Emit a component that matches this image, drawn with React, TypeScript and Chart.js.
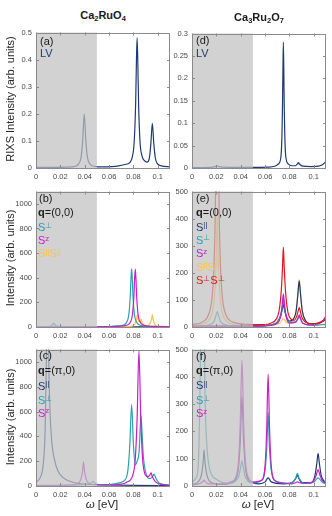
import React, { useEffect, useRef } from 'react';
import { Chart, registerables } from 'chart.js';
Chart.register(...registerables);

type P = [number, number];

// ---------- axes ----------
const X_TICKS = [0, 0.02, 0.04, 0.06, 0.08, 0.1];
const X_MAX = 0.11;
const GRAY_END = 0.05;
const Y_TICKS_A = [0, 0.1, 0.2, 0.3, 0.4, 0.5];
const Y_TICKS_D = [0, 0.05, 0.1, 0.15, 0.2, 0.25, 0.3];
const Y_TICKS_BC = [0, 200, 400, 600, 800, 1000];
const Y_TICKS_EF = [0, 100, 200, 300, 400, 500];

// ---------- colours ----------
const NAVY = '#1f3a72';
const TEAL = '#2aa0b2';
const MAGENTA = '#c81ec8';
const YELLOW = '#ffc24a';
const RED = '#e4161c';

// ---------- (a) Ca2RuO4 LV ----------
const A_LV: P[] = [[0,0.002],[0.015,0.002],[0.025,0.003],[0.031,0.005],[0.035,0.015],[0.037,0.04],[0.0383,0.1],[0.0396,0.2],[0.0409,0.1],[0.0422,0.04],[0.0442,0.015],[0.048,0.006],[0.055,0.004],[0.062,0.005],[0.068,0.008],[0.073,0.013],[0.077,0.02],[0.079,0.04],[0.0806,0.096],[0.0818,0.24],[0.0824,0.384],[0.083,0.48],[0.0836,0.384],[0.0842,0.24],[0.0854,0.096],[0.087,0.045],[0.089,0.027],[0.091,0.022],[0.093,0.035],[0.0943,0.09],[0.0955,0.165],[0.0967,0.09],[0.098,0.036],[0.0995,0.017],[0.103,0.008],[0.11,0.004]];

// ---------- (d) Ca3Ru2O7 LV ----------
const D_LV: P[] = [[0,0.001],[0.015,0.0015],[0.019,0.003],[0.0205,0.005],[0.022,0.003],[0.03,0.0015],[0.05,0.0015],[0.062,0.002],[0.068,0.004],[0.071,0.009],[0.073,0.025],[0.0738,0.07],[0.0743,0.14],[0.0746,0.21],[0.075,0.28],[0.0754,0.21],[0.0757,0.14],[0.0762,0.07],[0.077,0.025],[0.079,0.009],[0.082,0.005],[0.085,0.005],[0.0866,0.009],[0.0874,0.012],[0.0882,0.009],[0.091,0.004],[0.098,0.003],[0.104,0.004],[0.107,0.007],[0.109,0.012],[0.11,0.016]];

// ---------- (b) Ca2RuO4 q=(0,0) ----------
const B_PAR: P[] = [[0,1],[0.05,1],[0.11,1]];
const B_PERP: P[] = [[0,1],[0.01,3],[0.0125,10],[0.0138,22],[0.0145,32],[0.0152,22],[0.0165,10],[0.02,3],[0.04,2],[0.06,4],[0.068,9],[0.0725,18],[0.0745,40],[0.0761,95],[0.0773,238],[0.0779,380],[0.0785,475],[0.0791,380],[0.0797,238],[0.0809,95],[0.0825,40],[0.0845,18],[0.089,8],[0.1,3],[0.11,2]];
const B_Z: P[] = [[0,0],[0.05,1],[0.06,3],[0.07,8],[0.0755,18],[0.0775,40],[0.0791,95],[0.0803,238],[0.0809,380],[0.0815,470],[0.0821,380],[0.0827,238],[0.0839,95],[0.0855,40],[0.0875,18],[0.092,8],[0.1,4],[0.11,2]];
const B_PP: P[] = [[0,0],[0.06,1],[0.075,3],[0.079,8],[0.081,22],[0.0824,55],[0.0832,100],[0.084,58],[0.0848,42],[0.0855,48],[0.0862,65],[0.087,42],[0.0885,18],[0.091,10],[0.093,20],[0.0947,55],[0.0955,100],[0.0963,55],[0.0975,20],[0.1,7],[0.11,3]];

// ---------- (c) Ca2RuO4 q=(pi,0) ----------
const C_PAR: P[] = [[0,30],[0.004,80],[0.006,180],[0.0075,450],[0.0085,1000],[0.0095,2000],[0.0105,1000],[0.0115,600],[0.013,350],[0.015,220],[0.018,120],[0.022,70],[0.027,40],[0.035,20],[0.045,12],[0.06,8],[0.08,5],[0.11,3]];
const C_PERP: P[] = [[0,5],[0.03,8],[0.042,15],[0.0455,25],[0.0468,38],[0.048,25],[0.052,12],[0.06,12],[0.068,25],[0.0735,54],[0.0755,131],[0.077,328],[0.0785,655],[0.08,328],[0.0815,170],[0.083,200],[0.0847,285],[0.0855,460],[0.0862,570],[0.0869,460],[0.0882,230],[0.09,110],[0.093,60],[0.0955,72],[0.097,95],[0.0985,60],[0.101,25],[0.105,12],[0.11,8]];
const C_Z: P[] = [[0,3],[0.03,8],[0.035,25],[0.037,60],[0.0382,120],[0.039,195],[0.0398,120],[0.041,60],[0.043,25],[0.048,10],[0.06,8],[0.07,15],[0.0745,30],[0.0795,90],[0.0815,218],[0.083,545],[0.0845,1090],[0.086,545],[0.0875,218],[0.0895,95],[0.092,75],[0.0935,90],[0.0945,105],[0.0955,75],[0.098,35],[0.102,15],[0.11,6]];

// ---------- (e) Ca3Ru2O7 q=(0,0) ----------
const E_PAR: P[] = [[0,3],[0.05,4],[0.065,8],[0.07,18],[0.073,45],[0.0743,70],[0.075,90],[0.0757,70],[0.077,45],[0.08,22],[0.083,28],[0.0855,60],[0.0868,115],[0.088,170],[0.0892,115],[0.0905,60],[0.093,25],[0.098,12],[0.104,14],[0.108,22],[0.11,32]];
const E_PERP: P[] = [[0,2],[0.01,5],[0.015,10],[0.018,20],[0.0195,40],[0.0207,57],[0.0219,40],[0.0234,20],[0.026,10],[0.035,4],[0.05,3],[0.065,8],[0.07,18],[0.073,45],[0.0743,80],[0.075,105],[0.0757,80],[0.077,45],[0.08,18],[0.085,18],[0.0872,32],[0.088,40],[0.0888,32],[0.091,14],[0.1,6],[0.11,10]];
const E_Z: P[] = [[0,2],[0.05,3],[0.065,6],[0.07,14],[0.0725,35],[0.074,80],[0.075,122],[0.076,80],[0.0775,35],[0.08,14],[0.085,18],[0.0872,35],[0.088,45],[0.0888,35],[0.091,14],[0.097,8],[0.104,12],[0.108,25],[0.11,42]];
const E_PP: P[] = [[0,4],[0.008,10],[0.0137,25],[0.0167,55],[0.0187,130],[0.0199,260],[0.0207,420],[0.0215,260],[0.0227,130],[0.0247,55],[0.0277,25],[0.034,10],[0.045,5],[0.065,6],[0.072,15],[0.075,30],[0.078,15],[0.083,25],[0.0858,70],[0.0872,140],[0.088,175],[0.0888,140],[0.0902,70],[0.093,25],[0.1,8],[0.11,10]];
const E_PPERP: P[] = [[0,9],[0.007,15],[0.0117,30],[0.0147,60],[0.0167,120],[0.0182,250],[0.0193,500],[0.0207,1500],[0.0221,500],[0.0232,250],[0.0247,120],[0.0267,60],[0.0297,30],[0.035,16],[0.045,10],[0.06,9],[0.065,15],[0.069,28],[0.0715,60],[0.0733,135],[0.0743,220],[0.075,295],[0.0757,220],[0.0767,135],[0.0785,60],[0.081,30],[0.084,25],[0.086,40],[0.0873,62],[0.088,72],[0.0887,62],[0.09,38],[0.093,18],[0.098,12],[0.103,14],[0.107,22],[0.11,38]];

// ---------- (f) Ca3Ru2O7 q=(pi,0) ----------
const F_PAR: P[] = [[0,5],[0.005,15],[0.008,45],[0.0092,90],[0.0099,132],[0.0106,90],[0.012,45],[0.015,15],[0.025,6],[0.035,20],[0.038,60],[0.0397,170],[0.041,330],[0.0423,170],[0.044,60],[0.047,20],[0.055,8],[0.06,15],[0.0625,30],[0.065,15],[0.075,8],[0.083,15],[0.0855,30],[0.0865,40],[0.0875,30],[0.09,12],[0.098,12],[0.101,40],[0.1025,85],[0.1035,120],[0.1045,85],[0.106,40],[0.109,15],[0.11,12]];
const F_PERP: P[] = [[0,12],[0.003,28],[0.005,65],[0.0065,330],[0.0075,700],[0.0086,1400],[0.0097,700],[0.0107,330],[0.0122,150],[0.0146,60],[0.02,25],[0.03,10],[0.038,30],[0.0398,65],[0.041,92],[0.0422,65],[0.044,30],[0.05,12],[0.057,20],[0.06,60],[0.0615,150],[0.0625,270],[0.0635,150],[0.065,60],[0.068,20],[0.08,10],[0.085,28],[0.0865,46],[0.088,28],[0.092,10],[0.1,14],[0.1035,30],[0.107,14],[0.11,8]];
const F_Z: P[] = [[0,3],[0.007,10],[0.0092,18],[0.0099,22],[0.0106,18],[0.013,8],[0.025,8],[0.032,15],[0.036,33],[0.0382,92],[0.0396,230],[0.0402,346],[0.041,460],[0.0418,346],[0.0424,230],[0.0438,92],[0.046,33],[0.05,15],[0.0575,22],[0.0601,82],[0.0613,205],[0.0625,410],[0.0637,205],[0.0649,82],[0.0675,22],[0.072,12],[0.082,8],[0.085,12],[0.0865,15],[0.088,12],[0.095,10],[0.1,20],[0.102,40],[0.1035,60],[0.105,40],[0.107,20],[0.11,12]];

// ---------- layout ----------
const AX_W = 36;
const AX_H = 20;
const PAD_T = 6;
const PAD_R = 4;
const FONT = '"Liberation Sans", Arial, Helvetica, sans-serif';

interface Series { data: P[]; color: string }
interface Panel { key: string; left: number; top: number; w: number; h: number; yMax: number; yTicks: number[]; series: Series[] }

const COL_L = 36, COL_R = 192, PW = 134;
const PANELS: Panel[] = [
  { key: 'a', left: COL_L, top: 30, w: PW, h: 138, yMax: 0.5, yTicks: Y_TICKS_A, series: [{ data: A_LV, color: NAVY }] },
  { key: 'd', left: COL_R, top: 31, w: PW, h: 137, yMax: 0.3, yTicks: Y_TICKS_D, series: [{ data: D_LV, color: NAVY }] },
  { key: 'b', left: COL_L, top: 189, w: PW, h: 138, yMax: 1100, yTicks: Y_TICKS_BC, series: [
    { data: B_Z, color: MAGENTA }, { data: B_PERP, color: TEAL }, { data: B_PP, color: YELLOW }, { data: B_PAR, color: NAVY } ] },
  { key: 'e', left: COL_R, top: 189, w: PW, h: 138, yMax: 500, yTicks: Y_TICKS_EF, series: [
    { data: E_PPERP, color: RED }, { data: E_Z, color: MAGENTA }, { data: E_PERP, color: TEAL }, { data: E_PAR, color: NAVY }, { data: E_PP, color: YELLOW } ] },
  { key: 'c', left: COL_L, top: 347, w: PW, h: 139, yMax: 1100, yTicks: Y_TICKS_BC, series: [
    { data: C_Z, color: MAGENTA }, { data: C_PERP, color: TEAL }, { data: C_PAR, color: NAVY } ] },
  { key: 'f', left: COL_R, top: 347, w: PW, h: 139, yMax: 500, yTicks: Y_TICKS_EF, series: [
    { data: F_Z, color: MAGENTA }, { data: F_PERP, color: TEAL }, { data: F_PAR, color: NAVY } ] },
];

const fmt = (v: number) => String(parseFloat(Number(v).toFixed(4)));

const framePlugin = {
  id: 'frame',
  afterDatasetsDraw(chart: any) {
    const { ctx, chartArea: ca, scales } = chart;
    const xs = scales.x, ys = scales.y;
    ctx.save();
    const g1 = xs.getPixelForValue(0), g2 = xs.getPixelForValue(GRAY_END);
    ctx.fillStyle = 'rgba(192,192,192,0.72)';
    ctx.fillRect(g1, ca.top, g2 - g1, ca.bottom - ca.top);
    ctx.strokeStyle = '#8a8a8a';
    ctx.lineWidth = 1;
    ctx.strokeRect(Math.round(ca.left) + 0.5, Math.round(ca.top) + 0.5, Math.round(ca.width) - 1, Math.round(ca.height) - 1);
    const TL = 3;
    ctx.beginPath();
    for (const t of xs.ticks) {
      const px = Math.round(xs.getPixelForValue(t.value)) + 0.5;
      ctx.moveTo(px, ca.bottom); ctx.lineTo(px, ca.bottom - TL);
      ctx.moveTo(px, ca.top); ctx.lineTo(px, ca.top + TL);
    }
    for (const t of ys.ticks) {
      const py = Math.round(ys.getPixelForValue(t.value)) + 0.5;
      ctx.moveTo(ca.left, py); ctx.lineTo(ca.left + TL, py);
      ctx.moveTo(ca.right, py); ctx.lineTo(ca.right - TL, py);
    }
    ctx.stroke();
    ctx.restore();
  },
};

function PanelChart({ p }: { p: Panel }) {
  const ref = useRef<HTMLCanvasElement>(null);
  const cw = p.w + AX_W + PAD_R;
  const ch = p.h + PAD_T + AX_H;
  useEffect(() => {
    const tickFont = { family: FONT, size: 7.5 };
    const noGrid = { display: false, drawTicks: false, tickLength: 0 };
    const chart = new Chart(ref.current!, {
      type: 'line',
      data: {
        datasets: p.series.map((s) => ({
          data: s.data.map(([x, y]) => ({ x, y })),
          borderColor: s.color,
          borderWidth: 1.2,
          pointRadius: 0,
          fill: false,
          cubicInterpolationMode: 'monotone' as const,
          clip: 0,
        })),
      },
      options: {
        animation: false,
        responsive: false,
        devicePixelRatio: 1,
        events: [],
        layout: { padding: { top: PAD_T, right: PAD_R, left: 0, bottom: 0 } },
        plugins: { legend: { display: false }, tooltip: { enabled: false } },
        scales: {
          x: {
            type: 'linear', min: 0, max: X_MAX,
            afterBuildTicks: (s: any) => { s.ticks = X_TICKS.map((v) => ({ value: v })); },
            afterFit: (s: any) => { s.height = AX_H; },
            grid: noGrid, border: { display: false },
            ticks: { font: tickFont, color: '#4a4a4a', padding: 4, maxRotation: 0, autoSkip: false, callback: (v: any) => fmt(v) },
          },
          y: {
            type: 'linear', min: 0, max: p.yMax,
            afterBuildTicks: (s: any) => { s.ticks = p.yTicks.map((v) => ({ value: v })); },
            afterFit: (s: any) => { s.width = AX_W; },
            grid: noGrid, border: { display: false },
            ticks: { font: tickFont, color: '#4a4a4a', padding: 4, autoSkip: false, callback: (v: any) => fmt(v) },
          },
        },
      },
      plugins: [framePlugin],
    } as any);
    return () => chart.destroy();
  }, []);
  return (
    <canvas ref={ref} width={cw} height={ch}
      style={{ position: 'absolute', left: p.left - AX_W, top: p.top - PAD_T, width: cw, height: ch }} />
  );
}

const Sub = ({ children }: { children: React.ReactNode }) => (
  <span style={{ fontSize: '0.68em', position: 'relative', top: '0.3em' }}>{children}</span>
);
const Sup = ({ children }: { children: React.ReactNode }) => (
  <span style={{ fontSize: '0.72em', position: 'relative', top: '-0.42em' }}>{children}</span>
);

function Lbl({ x, y, color = '#1a1a1a', children }: { x: number; y: number; color?: string; children: React.ReactNode }) {
  return (
    <div style={{ position: 'absolute', left: x, top: y, transform: 'translateY(-50%)', font: `11px ${FONT}`, lineHeight: 1, color, whiteSpace: 'nowrap' }}>
      {children}
    </div>
  );
}

function YTitle({ x, y, text }: { x: number; y: number; text: string }) {
  return (
    <div style={{ position: 'absolute', left: x, top: y, transform: 'translate(-50%,-50%) rotate(-90deg)', font: `11px ${FONT}`, color: '#262626', whiteSpace: 'nowrap', lineHeight: 1 }}>
      {text}
    </div>
  );
}

function XTitle({ x, y }: { x: number; y: number }) {
  return (
    <div style={{ position: 'absolute', left: x, top: y, transform: 'translate(-50%,-50%)', font: `11.5px ${FONT}`, color: '#262626', whiteSpace: 'nowrap', lineHeight: 1 }}>
      <i>ω</i> [eV]
    </div>
  );
}

const Q00 = () => (<><b>q</b>=(0,0)</>);
const QPI = () => (<><b>q</b>=(π,0)</>);

export default function App() {
  const lx = 38, rx = 196;
  return (
    <div style={{ position: 'fixed', left: 0, top: 0, width: 332, height: 516, background: '#fff', overflow: 'hidden' }}>
      {PANELS.map((p) => <PanelChart key={p.key} p={p} />)}

      <div style={{ position: 'absolute', left: 103, top: 14.5, transform: 'translate(-50%,-50%)', font: `bold 11px ${FONT}`, color: '#1a1a1a', whiteSpace: 'nowrap', lineHeight: 1 }}>
        Ca<Sub>2</Sub>RuO<Sub>4</Sub>
      </div>
      <div style={{ position: 'absolute', left: 259, top: 16.5, transform: 'translate(-50%,-50%)', font: `bold 11px ${FONT}`, color: '#1a1a1a', whiteSpace: 'nowrap', lineHeight: 1 }}>
        Ca<Sub>3</Sub>Ru<Sub>2</Sub>O<Sub>7</Sub>
      </div>

      <YTitle x={9.5} y={99} text="RIXS Intensity (arb. units)" />
      <YTitle x={9.5} y={258} text="Intensity (arb. units)" />
      <YTitle x={9.5} y={416.5} text="Intensity (arb. units)" />
      <XTitle x={102} y={505} />
      <XTitle x={258} y={505} />

      {/* (a) */}
      <Lbl x={lx + 2} y={41}>(a)</Lbl>
      <Lbl x={lx + 2} y={52.5} color={NAVY}>LV</Lbl>
      {/* (d) */}
      <Lbl x={rx} y={40}>(d)</Lbl>
      <Lbl x={rx} y={53} color={NAVY}>LV</Lbl>
      {/* (b) */}
      <Lbl x={lx + 1} y={198}>(b)</Lbl>
      <Lbl x={lx} y={212}><Q00 /></Lbl>
      <Lbl x={lx} y={227} color={TEAL}>S<Sup>⊥</Sup></Lbl>
      <Lbl x={lx} y={240} color={MAGENTA}>S<Sup>z</Sup></Lbl>
      <Lbl x={lx} y={253} color={YELLOW}>S<Sup>||</Sup>S<Sup>||</Sup></Lbl>
      {/* (e) */}
      <Lbl x={rx} y={198}>(e)</Lbl>
      <Lbl x={rx} y={211.7}><Q00 /></Lbl>
      <Lbl x={rx} y={226.5} color={NAVY}>S<Sup>||</Sup></Lbl>
      <Lbl x={rx} y={239.5} color={TEAL}>S<Sup>⊥</Sup></Lbl>
      <Lbl x={rx} y={253} color={MAGENTA}>S<Sup>z</Sup></Lbl>
      <Lbl x={rx} y={266.5} color={YELLOW}>S<Sup>||</Sup>S<Sup>||</Sup></Lbl>
      <Lbl x={rx} y={280} color={RED}>S<Sup>⊥</Sup>S<Sup>⊥</Sup></Lbl>
      {/* (c) */}
      <Lbl x={lx + 1} y={355}>(c)</Lbl>
      <Lbl x={lx} y={370}><QPI /></Lbl>
      <Lbl x={lx} y={385.5} color={NAVY}>S<Sup>||</Sup></Lbl>
      <Lbl x={lx} y={400} color={TEAL}>S<Sup>⊥</Sup></Lbl>
      <Lbl x={lx} y={412.5} color={MAGENTA}>S<Sup>z</Sup></Lbl>
      {/* (f) */}
      <Lbl x={rx} y={356}>(f)</Lbl>
      <Lbl x={rx} y={369.5}><QPI /></Lbl>
      <Lbl x={rx} y={385} color={NAVY}>S<Sup>||</Sup></Lbl>
      <Lbl x={rx} y={400} color={TEAL}>S<Sup>⊥</Sup></Lbl>
      <Lbl x={rx} y={413} color={MAGENTA}>S<Sup>z</Sup></Lbl>
    </div>
  );
}
